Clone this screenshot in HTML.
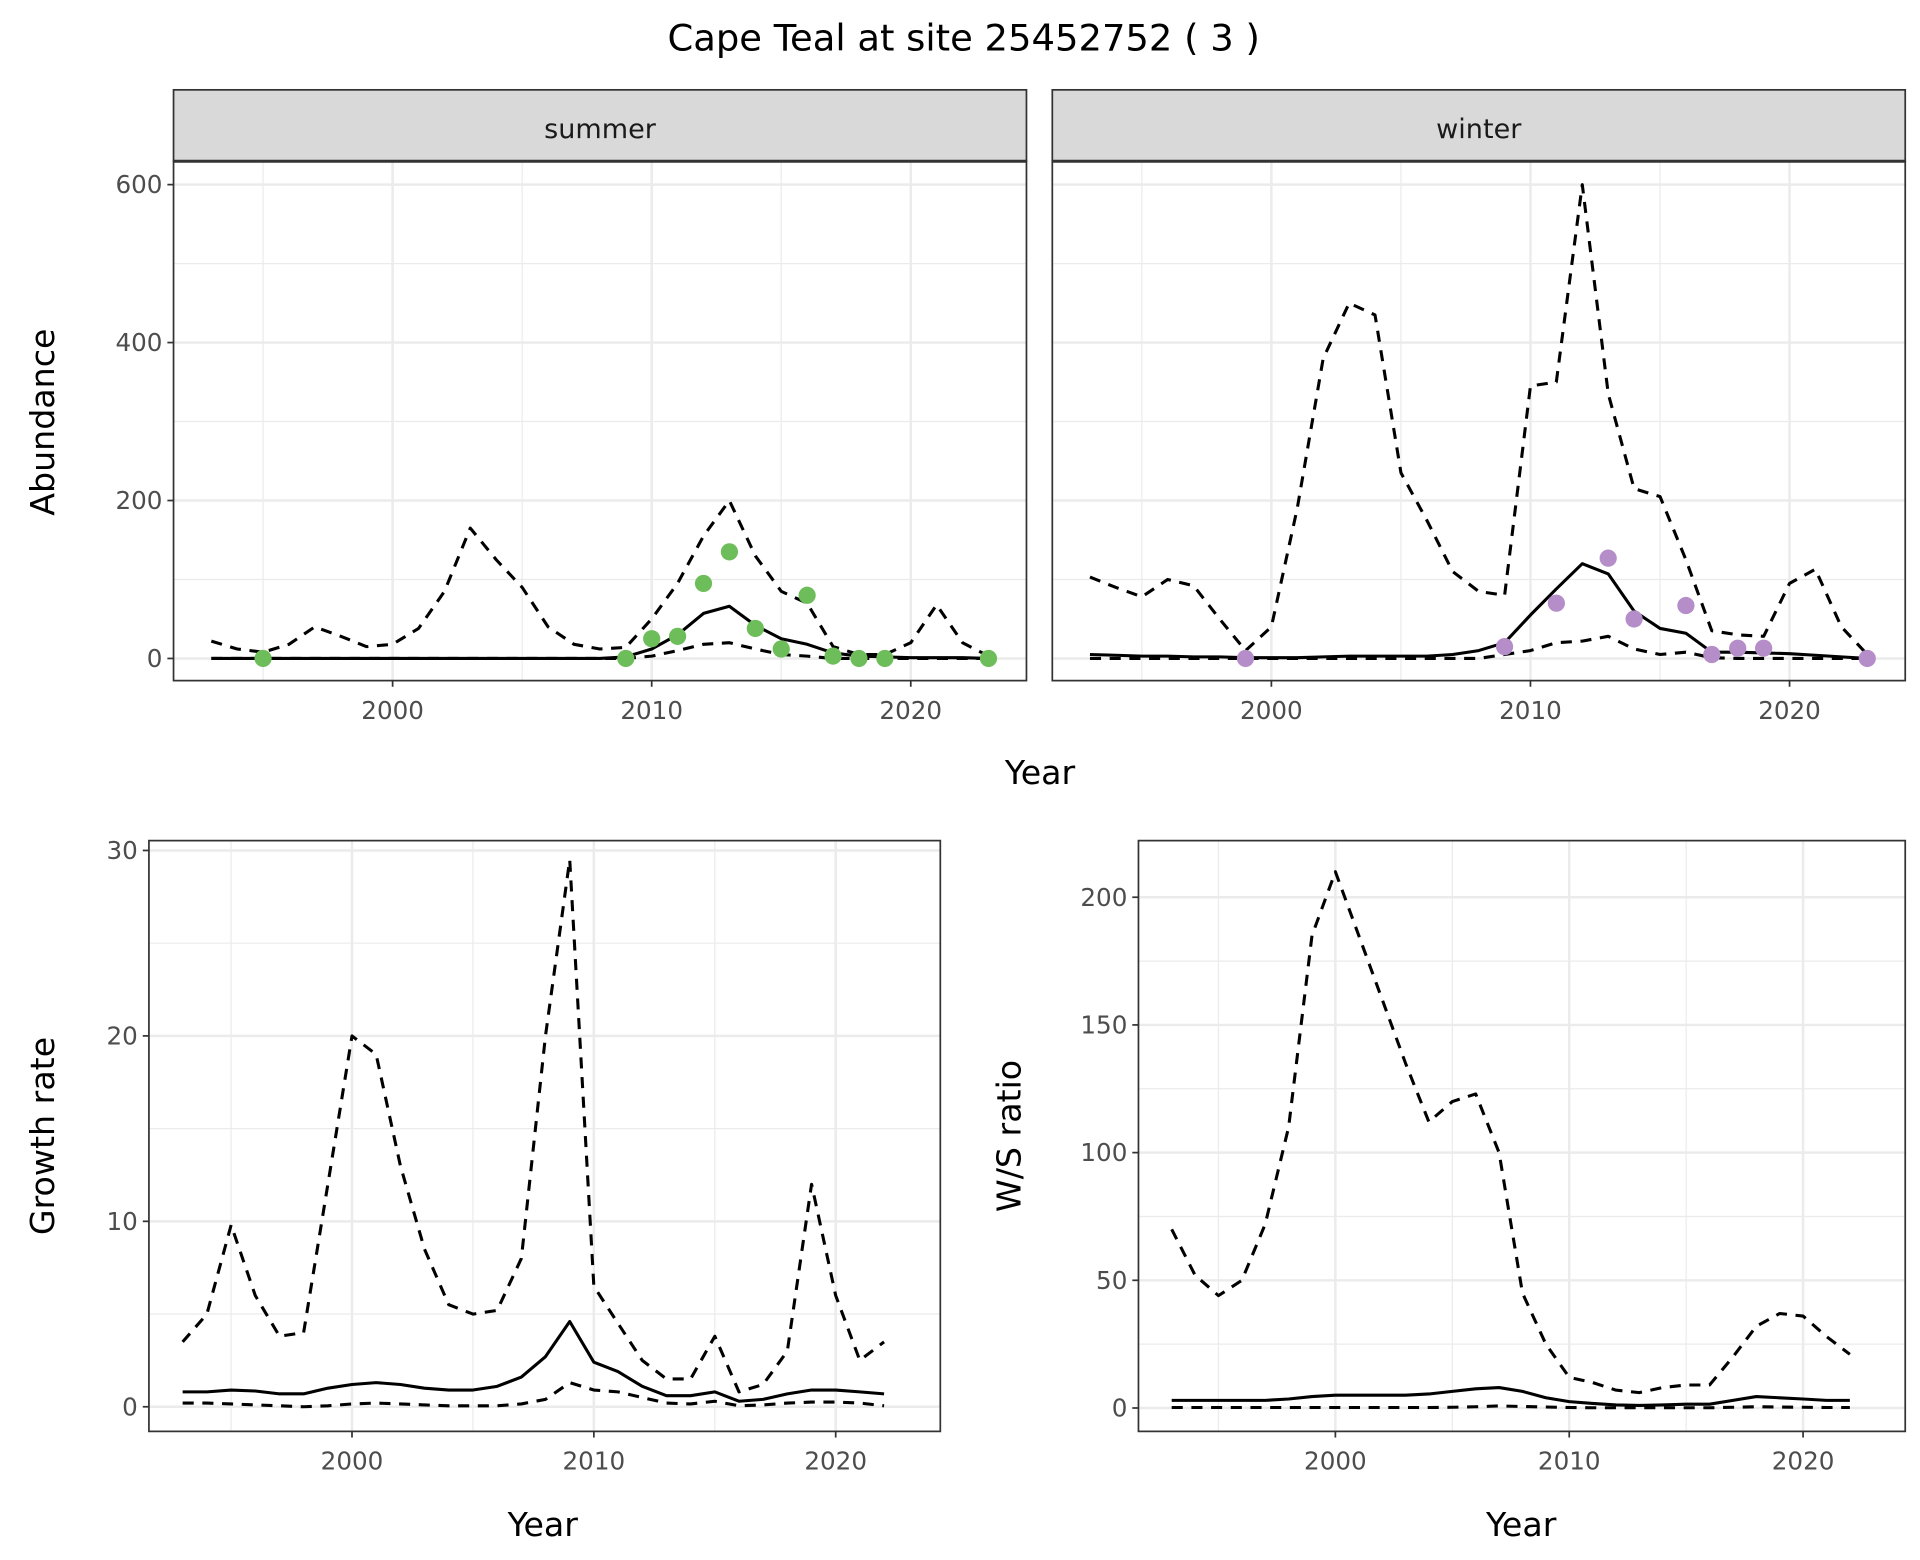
<!DOCTYPE html>
<html><head><meta charset="utf-8"><style>
html,body{margin:0;padding:0;background:#fff;}
svg{display:block;font-family:"DejaVu Sans","Liberation Sans",sans-serif;}
</style></head><body>
<svg id="c" width="1920" height="1560" viewBox="0 0 1560 1267.5" xmlns="http://www.w3.org/2000/svg">
<text x="783" y="41" font-size="30" text-anchor="middle" fill="#000">Cape Teal at site 25452752 ( 3 )</text>
</svg>
<script>
const yearsAb = [1993,1994,1995,1996,1997,1998,1999,2000,2001,2002,2003,2004,2005,2006,2007,2008,2009,2010,2011,2012,2013,2014,2015,2016,2017,2018,2019,2020,2021,2022,2023];
const sumUpper = [22,12,8,18,40,28,15,18,38,85,165,125,90,40,18,12,14,50,95,155,200,130,85,70,15,5,5,20,68,20,3];
const sumMean = [0,0,0,0,0,0,0,0,0,0,0,0,0,0,0,0,2,12,30,57,66,42,25,18,7,3,2,1,1,1,0];
const sumLower = [0,0,0,0,0,0,0,0,0,0,0,0,0,0,0,0,0,3,10,18,20,12,5,3,0,0,0,0,0,0,0];
const sumPtYears = [1995,2009,2010,2011,2012,2013,2014,2015,2016,2017,2018,2019,2023];
const sumPtVals = [0,0,25,28,95,135,38,12,80,3,0,0,0];
const winUpper = [103,90,78,100,92,50,10,40,190,380,450,435,235,175,110,85,80,345,350,600,335,215,205,125,35,30,28,95,113,40,5];
const winMean = [5,4,3,3,2,2,1,1,1,2,3,3,3,3,5,10,20,55,88,120,107,60,38,32,8,8,7,6,4,2,0];
const winLower = [0,0,0,0,0,0,0,0,0,0,0,0,0,0,0,0,5,10,20,22,28,12,5,8,1,0,0,0,0,0,0];
const winPtYears = [1999,2009,2011,2013,2014,2016,2017,2018,2019,2023];
const winPtVals = [0,15,70,127,50,67,5,13,13,0];
const yearsR = [1993,1994,1995,1996,1997,1998,1999,2000,2001,2002,2003,2004,2005,2006,2007,2008,2009,2010,2011,2012,2013,2014,2015,2016,2017,2018,2019,2020,2021,2022];
const grUpper = [3.5,5,9.8,6,3.8,4,12,20,19,13,8.5,5.5,5,5.2,8,20,29.5,6.5,4.5,2.5,1.5,1.5,3.8,0.8,1.2,3,12,6,2.5,3.5];
const grMean = [0.8,0.8,0.9,0.85,0.7,0.7,1.0,1.2,1.3,1.2,1.0,0.9,0.9,1.1,1.6,2.7,4.6,2.4,1.9,1.1,0.6,0.6,0.8,0.3,0.4,0.7,0.9,0.9,0.8,0.7];
const grLower = [0.2,0.2,0.15,0.1,0.05,0,0.05,0.15,0.2,0.15,0.1,0.05,0.05,0.05,0.15,0.4,1.3,0.9,0.8,0.5,0.2,0.15,0.3,0.05,0.1,0.2,0.25,0.25,0.2,0.05];
const wsUpper = [70,52,44,50,72,110,185,210,185,160,135,112,120,123,100,45,25,12,10,7,6,8,9,9,20,32,37,36,28,21];
const wsMean = [3,3,3,3,3,3.5,4.5,5,5,5,5,5.5,6.5,7.5,8,6.5,4,2.5,1.8,1.2,1,1.2,1.5,1.5,3,4.5,4,3.5,3,3];
const wsLower = [0.2,0.2,0.2,0.2,0.2,0.2,0.2,0.2,0.2,0.2,0.2,0.2,0.3,0.5,0.8,0.6,0.4,0.2,0.1,0.1,0.1,0.1,0.1,0.1,0.3,0.5,0.4,0.3,0.2,0.2];
const xTicks = [2000,2010,2020];
const abTicks = [0,200,400,600];
const grTicks = [0,10,20,30];
const wsTicks = [0,50,100,150,200];

const NS="http://www.w3.org/2000/svg";
const svg=document.getElementById('c');
function el(tag,attrs,parent){const e=document.createElementNS(NS,tag);for(const k in attrs)e.setAttribute(k,attrs[k]);(parent||svg).appendChild(e);return e;}
function lin(d0,d1,r0,r1){return v=>r0+(v-d0)*(r1-r0)/(d1-d0);}

function panel(cfg){
  const g=el('g',{});
  
  
  const {L,R,T,B,x,y}=cfg;
  cfg.xMinor.forEach(v=>el('line',{x1:x(v),x2:x(v),y1:T,y2:B,stroke:'#EBEBEB','stroke-width':1.0},g));
  cfg.yMinor.forEach(v=>el('line',{x1:L,x2:R,y1:y(v),y2:y(v),stroke:'#EBEBEB','stroke-width':1.0},g));
  xTicks.forEach(v=>el('line',{x1:x(v),x2:x(v),y1:T,y2:B,stroke:'#EBEBEB','stroke-width':2},g));
  cfg.yTicks.forEach(v=>el('line',{x1:L,x2:R,y1:y(v),y2:y(v),stroke:'#EBEBEB','stroke-width':2},g));
  cfg.series.forEach(s=>{
    const p=el('path',{d:s.xs.map((v,i)=>(i?'L':'M')+x(v).toFixed(1)+','+y(s.ys[i]).toFixed(1)).join(''),fill:'none',stroke:'#000','stroke-width':2.5,'stroke-dasharray':s.dash?'9 7':'none','stroke-linejoin':'round'},g);
    
    
  });
  if(cfg.pts){cfg.pts.xs.forEach((v,i)=>{
    const c=el('circle',{cx:x(v),cy:y(cfg.pts.ys[i]),r:7,fill:cfg.pts.color},g);
    
    
  });}
  el('rect',{x:L,y:T,width:R-L,height:B-T,fill:'none',stroke:'#333','stroke-width':1.4},g);
  if(cfg.showY){cfg.yTicks.forEach(v=>{
    el('line',{x1:L-5,x2:L,y1:y(v),y2:y(v),stroke:'#333','stroke-width':1.4},g);
    const t=el('text',{x:L-9,y:y(v)+7,'font-size':20,'text-anchor':'end',fill:'#4D4D4D'},g);t.textContent=v;
    
    
  });}
  xTicks.forEach(v=>{
    el('line',{x1:x(v),x2:x(v),y1:B,y2:B+5,stroke:'#333','stroke-width':1.4},g);
    const t=el('text',{x:x(v),y:B+31,'font-size':20,'text-anchor':'middle',fill:'#4D4D4D'},g);t.textContent=v;
    
    
  });
  if(cfg.strip){
    el('rect',{x:L,y:73,width:R-L,height:T-73,fill:'#D9D9D9',stroke:'#333','stroke-width':1.4},g);
    el('line',{x1:L,x2:R,y1:T,y2:T,stroke:'#333','stroke-width':2.5},g);
    const t=el('text',{x:(L+R)/2,y:112,'font-size':22,'text-anchor':'middle',fill:'#1A1A1A'},g);t.textContent=cfg.strip;
    
    
  }
}

const yAb=lin(0,600,535,150);
const xS=lin(2000,2020,319,740);
const xW=lin(2000,2020,1033,1454);
panel({name:'summer-panel',L:141,R:834,T:131,B:553,x:xS,y:yAb,yTicks:abTicks,yMinor:[100,300,500],xMinor:[1995,2005,2015],showY:true,strip:'summer',
  series:[{name:'summer-upper-line',xs:yearsAb,ys:sumUpper,dash:true},{name:'summer-lower-line',xs:yearsAb,ys:sumLower,dash:true},{name:'summer-mean-line',xs:yearsAb,ys:sumMean}],
  pts:{xs:sumPtYears,ys:sumPtVals,color:'#6DBE5B'}});
panel({name:'winter-panel',L:855,R:1548,T:131,B:553,x:xW,y:yAb,yTicks:abTicks,yMinor:[100,300,500],xMinor:[1995,2005,2015],showY:false,strip:'winter',
  series:[{name:'winter-upper-line',xs:yearsAb,ys:winUpper,dash:true},{name:'winter-lower-line',xs:yearsAb,ys:winLower,dash:true},{name:'winter-mean-line',xs:yearsAb,ys:winMean}],
  pts:{xs:winPtYears,ys:winPtVals,color:'#B48DC9'}});
panel({name:'growth-rate-panel',L:121,R:764,T:683,B:1163,x:lin(2000,2020,286,679),y:lin(0,30,1143,691),yTicks:grTicks,yMinor:[5,15,25],xMinor:[1995,2005,2015],showY:true,
  series:[{name:'growth-upper-line',xs:yearsR,ys:grUpper,dash:true},{name:'growth-lower-line',xs:yearsR,ys:grLower,dash:true},{name:'growth-mean-line',xs:yearsR,ys:grMean}]});
panel({name:'ws-ratio-panel',L:925,R:1548,T:683,B:1163,x:lin(2000,2020,1085,1465),y:lin(0,200,1144,729),yTicks:wsTicks,yMinor:[25,75,125,175],xMinor:[1995,2005,2015],showY:true,
  series:[{name:'ws-upper-line',xs:yearsR,ys:wsUpper,dash:true},{name:'ws-lower-line',xs:yearsR,ys:wsLower,dash:true},{name:'ws-mean-line',xs:yearsR,ys:wsMean}]});

function label(txt,x,y,rot,name){
  const t=el('text',{x:x,y:y,'font-size':27,'text-anchor':'middle',fill:'#000',transform:rot?`rotate(-90 ${x} ${y})`:''});
  t.textContent=txt;
  
  
}
label('Abundance',44,343,true,'y-axis-title-abundance');
label('Year',845,637,false,'x-axis-title-top');
label('Growth rate',44,923,true,'y-axis-title-growth');
label('Year',441,1248,false,'x-axis-title-growth');
label('W/S ratio',829,923,true,'y-axis-title-ws');
label('Year',1236,1248,false,'x-axis-title-ws');
</script>
</body></html>
